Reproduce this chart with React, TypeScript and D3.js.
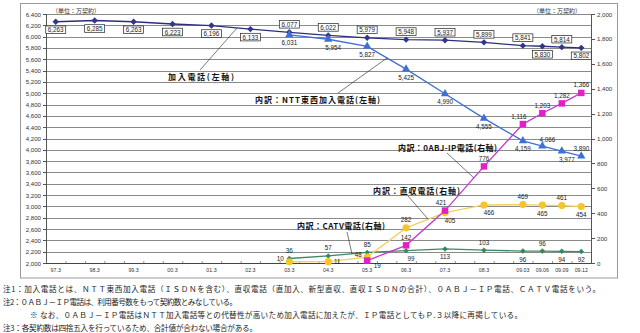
import React from "react";
import * as d3 from "d3";

const categories = ["97.3","98.3","99.3","00.3","01.3","02.3","03.3","04.3","05.3","06.3","07.3","08.3","09.03","09.06","09.09","09.12"];
// yearly points take two slots, quarterly points one slot
const slotSpan = [2,2,2,2,2,2,2,2,2,2,2,2,1,1,1,1];

const subscriber = [6263,6285,6263,6223,6196,6133,6077,6022,5979,5948,5937,5899,5841,5830,5814,5802];
const nttEastWest = [null,null,null,null,null,null,6031,5954,5827,5425,4990,4555,4159,4066,3977,3890];
const ipPhone = [null,null,null,null,null,null,null,null,19,142,421,776,1116,1203,1282,1366];
const directLine = [null,null,null,null,null,null,10,11,48,282,405,466,469,465,461,454];
const catvPhone = [null,null,null,null,null,null,36,57,85,99,113,103,96,96,94,92];

const leftTicks = d3.range(2000, 6401, 200);
const rightTicks = d3.range(0, 2001, 200);

// label placement codes
const subscriberPos = ["b","b","b","b","b","b","a","a","a","a","a","a","a","b","a","b"];
const nttPos = ["","","","","","","b","br","b","b","b","b","b","ar","br","a"];
const ipPos = ["","","","","","","","","brr","a","al","a","al","a","a","a"];
const directPos = ["","","","","","","l","r","l","a","br","br","a","b","a","b"];
const catvPos = ["","","","","","","a","a","a","br","b","a","b","a","b","b"];

const footnotes = [
  "注1：加入電話とは、ＮＴＴ東西加入電話（ＩＳＤＮを含む）、直収電話（直加入、新型直収、直収ＩＳＤＮの合計）、０ＡＢＪ－ＩＰ電話、ＣＡＴＶ電話をいう。",
  "注2：０ＡＢＪ－ＩＰ電話は、利用番号数をもって契約数とみなしている。",
  "※ なお、０ＡＢＪ－ＩＰ電話はＮＴＴ加入電話等との代替性が高いため加入電話に加えたが、ＩＰ電話としてもＰ.３以降に再掲している。",
  "注3：各契約数は四捨五入を行っているため、合計値が合わない場合がある。",
];

const OFF: Record<string, [number, number]> = {
  a: [0, -8], b: [0, 8], ar: [5, -7], br: [5, 8], brr: [10, 5], al: [-4, -8], l: [-9, -3], r: [9, 0],
};

const fmt = d3.format(",");
const NUM_FONT = "'Liberation Sans', Arial, sans-serif";
const JP_FONT = "'Noto Sans CJK JP', sans-serif";

export default function App() {
  const W = 640, H = 333;
  const plot = { left: 46, right: 591, top: 14, bottom: 263 };

  const slots: string[] = [];
  categories.forEach((c, i) => {
    slots.push(c);
    if (slotSpan[i] === 2) slots.push(c + "_");
  });
  const xb = d3.scaleBand<string>().domain(slots).range([plot.left, plot.right]).padding(0);
  const bw = xb.bandwidth();
  const x = (i: number) => (xb(categories[i]) as number) + bw / 2;
  const yL = d3.scaleLinear().domain([2000, 6400]).range([plot.bottom, plot.top]);
  const yR = d3.scaleLinear().domain([0, 2000]).range([plot.bottom, plot.top]);

  const mkLine = (vals: (number | null)[], y: d3.ScaleLinear<number, number>) =>
    d3.line<number>()
      .defined((i) => vals[i] != null)
      .x((i) => x(i))
      .y((i) => y(vals[i] as number))(d3.range(vals.length)) || "";

  const diamond = (s: number) => `M0,${-s}L${s},0L0,${s}L${-s},0Z`;
  const tri = d3.symbol(d3.symbolTriangle, 30)() || "";
  const sq = d3.symbol(d3.symbolSquare, 42)() || "";

  const labels = (vals: (number | null)[], pos: string[], y: d3.ScaleLinear<number, number>, fill = "#222") =>
    vals.map((v, i) => {
      if (v == null) return null;
      const [dx, dy] = OFF[pos[i]] || [0, -8];
      return (
        <text key={i} x={x(i) + dx} y={y(v) + dy} textAnchor="middle" dominantBaseline="central"
          fontFamily={NUM_FONT} fontSize={6.3} fill={fill}>{fmt(v)}</text>
      );
    });

  const series = [
    { vals: subscriber, y: yL, color: "#2B2F7E" },
    { vals: nttEastWest, y: yL, color: "#3E6FD6" },
    { vals: catvPhone, y: yR, color: "#3B8C66" },
    { vals: directLine, y: yR, color: "#F1D064" },
    { vals: ipPhone, y: yR, color: "#C23BC8" },
  ];

  const leader = { stroke: "#222", strokeWidth: 0.6 };
  const callout = { fontFamily: JP_FONT, fontSize: 8, fontWeight: 700, fill: "#111", lengthAdjust: "spacing" } as const;

  return (
    <svg width={W} height={H} style={{ position: "absolute", left: 0, top: 0, background: "#fff" }}>
      <rect x={20.5} y={3.5} width={597} height={274.5} fill="#fff" stroke="#9a9a9a" strokeWidth={1} />

      {/* gridlines */}
      {leftTicks.map((t) => (
        <line key={t} x1={plot.left} x2={plot.right} y1={Math.round(yL(t)) + 0.5} y2={Math.round(yL(t)) + 0.5}
          stroke="#8a8a8a" strokeWidth={1} />
      ))}
      {/* axes */}
      <line x1={plot.left + 0.5} x2={plot.left + 0.5} y1={plot.top} y2={plot.bottom} stroke="#555" />
      <line x1={plot.right + 0.5} x2={plot.right + 0.5} y1={plot.top} y2={plot.bottom} stroke="#555" />
      <line x1={plot.left} x2={plot.right} y1={plot.bottom + 0.5} y2={plot.bottom + 0.5} stroke="#444" />

      {leftTicks.map((t) => (
        <g key={"l" + t}>
          <line x1={plot.left - 3} x2={plot.left} y1={Math.round(yL(t)) + 0.5} y2={Math.round(yL(t)) + 0.5} stroke="#555" />
          <text x={41} y={yL(t)} textAnchor="end" dominantBaseline="central" fontFamily={NUM_FONT} fontSize={6.1} fill="#333">{fmt(t)}</text>
        </g>
      ))}
      {rightTicks.map((t) => (
        <g key={"r" + t}>
          <line x1={plot.right} x2={plot.right + 4} y1={Math.round(yR(t)) + 0.5} y2={Math.round(yR(t)) + 0.5} stroke="#555" />
          <text x={597} y={yR(t)} textAnchor="start" dominantBaseline="central" fontFamily={NUM_FONT} fontSize={6.1} fill="#333">{fmt(t)}</text>
        </g>
      ))}
      {slots.map((s) => (
        <line key={"t" + s} x1={(xb(s) as number) + 0.5} x2={(xb(s) as number) + 0.5} y1={plot.bottom - 2} y2={plot.bottom}
          stroke="#777" strokeWidth={0.8} />
      ))}
      {categories.map((c, i) => (
        <text key={c} x={x(i)} y={270} textAnchor="middle" dominantBaseline="central" fontFamily={NUM_FONT} fontSize={5.3} fill="#333">{c}</text>
      ))}

      {/* unit labels */}
      <text x={52} y={10} fontFamily={JP_FONT} fontSize={6} fill="#333" dominantBaseline="central">（単位：万契約）</text>
      <text x={533} y={10} fontFamily={JP_FONT} fontSize={6} fill="#333" dominantBaseline="central">（単位：万契約）</text>

      {/* lines */}
      {series.map((s, k) => (
        <path key={k} d={mkLine(s.vals, s.y)} fill="none" stroke={s.color} strokeWidth={1.3} />
      ))}

      {/* markers */}
      {subscriber.map((v, i) => (
        <path key={"m1" + i} d={diamond(3.2)} transform={`translate(${x(i)},${yL(v)})`} fill="#33358A" />
      ))}
      {nttEastWest.map((v, i) => v == null ? null : (
        <path key={"m2" + i} d={tri} transform={`translate(${x(i)},${yL(v)})`} fill="#3E6FD6" />
      ))}
      {catvPhone.map((v, i) => v == null ? null : (
        <path key={"m3" + i} d={diamond(2.7)} transform={`translate(${x(i)},${yR(v)})`} fill="#2F8A5C" />
      ))}
      {directLine.map((v, i) => v == null ? null : (
        <circle key={"m4" + i} cx={x(i)} cy={yR(v)} r={3.6} fill="#F5C52C" />
      ))}
      {ipPhone.map((v, i) => v == null ? null : (
        <path key={"m5" + i} d={sq} transform={`translate(${x(i)},${yR(v)})`} fill="#E41FC9" />
      ))}

      {/* boxed labels for subscriber */}
      {subscriber.map((v, i) => {
        const [dx, dy] = OFF[subscriberPos[i]];
        const cx = x(i) + dx, cy = yL(v) + dy;
        return (
          <g key={"b" + i}>
            <rect x={cx - 10} y={cy - 3.8} width={20} height={7.6} fill="#fff" stroke="#222" strokeWidth={0.7} />
            <text x={cx} y={cy} textAnchor="middle" dominantBaseline="central" fontFamily={NUM_FONT} fontSize={6.3} fill="#222">{fmt(v)}</text>
          </g>
        );
      })}
      {labels(nttEastWest, nttPos, yL)}
      {labels(ipPhone, ipPos, yR)}
      {labels(directLine, directPos, yR)}
      {labels(catvPhone, catvPos, yR)}

      {/* callouts */}
      <line x1={200} y1={70} x2={237} y2={28} {...leader} />
      <text x={168} y={76} dominantBaseline="central" textLength={66} {...callout}>加入電話(左軸)</text>
      <line x1={338} y1={93} x2={387} y2={58} {...leader} />
      <text x={255} y={99} dominantBaseline="central" textLength={125} {...callout}>内訳：NTT東西加入電話(左軸)</text>
      <line x1={447} y1={153} x2={474} y2={178} {...leader} />
      <text x={398} y={147} dominantBaseline="central" textLength={99} {...callout}>内訳：0ABJ-IP電話(右軸)</text>
      <line x1={408} y1={196} x2={428} y2={219} {...leader} />
      <text x={373} y={190} dominantBaseline="central" textLength={87} {...callout}>内訳：直収電話(右軸)</text>
      <line x1={347} y1={232} x2={352} y2={254} {...leader} />
      <text x={297} y={225} dominantBaseline="central" textLength={88} {...callout}>内訳：CATV電話(右軸)</text>

      {/* footnotes */}
      <text x={3} y={292} fontFamily={JP_FONT} fontSize={7.6} fill="#222" textLength={597} lengthAdjust="spacing">{footnotes[0]}</text>
      <text x={3} y={305} fontFamily={JP_FONT} fontSize={7.6} fill="#222" textLength={234} lengthAdjust="spacing">{footnotes[1]}</text>
      <text x={30} y={318} fontFamily={JP_FONT} fontSize={7.6} fill="#222" textLength={492} lengthAdjust="spacing">{footnotes[2]}</text>
      <text x={3} y={331} fontFamily={JP_FONT} fontSize={7.6} fill="#222" textLength={254} lengthAdjust="spacing">{footnotes[3]}</text>
    </svg>
  );
}
